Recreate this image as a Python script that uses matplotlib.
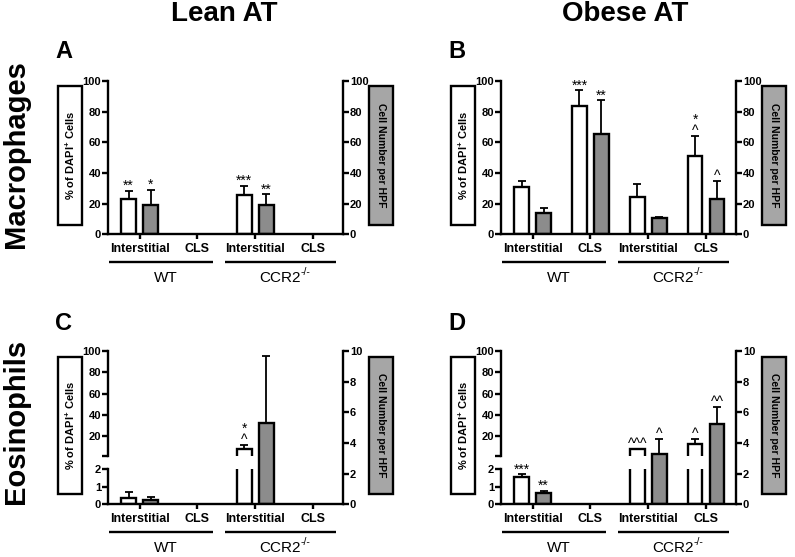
import numpy as np
import matplotlib.pyplot as plt
from matplotlib.patches import Rectangle

plt.rcParams['font.family'] = ['Liberation Sans', 'DejaVu Sans']
plt.rcParams['mathtext.fontset'] = 'custom'
plt.rcParams['mathtext.rm'] = 'Liberation Sans'
plt.rcParams['mathtext.bf'] = 'Liberation Sans:bold'

W, H = 795, 557

# --- data ---
categories = ['Interstitial', 'CLS', 'Interstitial', 'CLS']
groups = ['WT', 'CCR2']
group_sup = ['', '-/-']

# A: lean AT, macrophages
a_white = [23.0, 0, 25.6, 0]
a_white_sem = [5.4, 0, 5.9, 0]
a_gray = [19.1, 0, 19.1, 0]
a_gray_sem = [9.8, 0, 6.9, 0]
a_white_marks = ['**', '', '***', '']
a_gray_marks = ['*', '', '**', '']

# B: obese AT, macrophages
b_white = [30.6, 83.7, 24.5, 51.0]
b_white_sem = [4.3, 10.2, 8.3, 13.0]
b_gray = [13.7, 65.3, 10.4, 22.8]
b_gray_sem = [3.7, 22.1, 1.1, 12.1]
b_white_marks = ['', '***', '', '*\n^']
b_gray_marks = ['', '**', '', '^']

# C: lean AT, eosinophils
c_white = [0.34, 0, 8.2, 0]
c_white_sem = [0.34, 0, 3.8, 0]
c_gray = [0.28, 0, 5.28, 0]
c_gray_sem = [0.18, 0, 4.39, 0]
c_white_marks = ['', '', '*\n^', '']
c_gray_marks = ['', '', '', '']

# D: obese AT, eosinophils
d_white = [1.53, 0, 8.2, 13.2]
d_white_sem = [0.17, 0, 0.0, 4.8]
d_gray = [0.76, 0, 3.25, 5.22]
d_gray_sem = [0.11, 0, 1.0, 1.15]
d_white_marks = ['***', '', '^^^', '^']
d_gray_marks = ['**', '', '^', '^^']

GRAY = '#8c8c8c'
BOXGRAY = '#a6a6a6'
LW = 1.7
XLIM = (-0.55, 3.52)
OFF = 0.19
BW = 0.25
TICK_LEN = 4.3

fig = plt.figure(figsize=(W / 100, H / 100), dpi=100)


def rect(x0, y0, x1, y1):
    # pixel box (top-left origin) -> figure fraction
    return [x0 / W, 1 - y1 / H, (x1 - x0) / W, (y1 - y0) / H]


def style_left(ax, bottom_spine):
    ax.patch.set_visible(False)
    ax.set_zorder(3)
    ax.spines['top'].set_visible(False)
    ax.spines['right'].set_visible(False)
    ax.spines['left'].set_linewidth(LW)
    ax.spines['left'].set_color('black')
    ax.spines['bottom'].set_linewidth(LW)
    ax.spines['bottom'].set_visible(bottom_spine)
    ax.set_xlim(*XLIM)
    ax.tick_params(axis='y', length=TICK_LEN, width=LW, pad=0.5, labelsize=8)
    for t in ax.get_yticklabels():
        t.set_fontweight('bold')
    if bottom_spine:
        ax.set_xticks(range(len(categories)))
        ax.set_xticklabels(categories, fontsize=9, fontweight='bold')
        ax.tick_params(axis='x', length=3.5, width=LW, pad=2.5)
    else:
        ax.set_xticks([])


def annotate(ax, x, y, text):
    if text:
        ax.annotate(text, (x, y), xytext=(0, -1.5), textcoords='offset points',
                    ha='center', va='bottom', fontsize=10, linespacing=0.8,
                    annotation_clip=False)


def draw_bars(ax, xs, vals, sems, color, vmin=0):
    for x, v, e in zip(xs, vals, sems):
        if v <= vmin:
            continue
        ax.bar(x, v, BW, color=color, edgecolor='black', linewidth=LW, zorder=2)
        if e > 0:
            ax.errorbar(x, v, yerr=[[0], [e]], fmt='none', ecolor='black',
                        elinewidth=1.3, capsize=3, capthick=1.3, zorder=1)


def panel(x0, top_px, bot_px, white, white_sem, gray, gray_sem,
          wmarks, gmarks, broken):
    x1 = x0 + 235.6
    xs = np.arange(len(categories))
    right = fig.add_axes(rect(x0, top_px, x1, bot_px))
    if broken:
        # left axis broken into 2-100 (top) and 0-2 (bottom)
        top = fig.add_axes(rect(x0, top_px, x1, bot_px - 48.6))
        bot = fig.add_axes(rect(x0, bot_px - 35.3, x1, bot_px))
        top.set_ylim(2, 100)
        top.set_yticks([2, 20, 40, 60, 80, 100])
        top.set_yticklabels(['', '20', '40', '60', '80', '100'])
        bot.set_ylim(0, 2)
        bot.set_yticks([0, 1, 2])
        style_left(top, False)
        style_left(bot, True)
        draw_bars(top, xs - OFF, white, white_sem, 'white', vmin=2)
        draw_bars(bot, xs - OFF, white, white_sem, 'white')
        right.set_ylim(0, 10)
        right.set_yticks([0, 2, 4, 6, 8, 10])
    else:
        top = fig.add_axes(rect(x0, top_px, x1, bot_px))
        top.set_ylim(0, 100)
        top.set_yticks([0, 20, 40, 60, 80, 100])
        style_left(top, True)
        draw_bars(top, xs - OFF, white, white_sem, 'white')
        bot = top
        right.set_ylim(0, 100)
        right.set_yticks([0, 20, 40, 60, 80, 100])

    for x, v, e, m in zip(xs - OFF, white, white_sem, wmarks):
        yt = v + e
        ax = top if (not broken or yt > 2) else bot
        annotate(ax, x, yt, m)

    right.patch.set_visible(False)
    right.set_zorder(2)
    for s in ['top', 'left', 'bottom']:
        right.spines[s].set_visible(False)
    right.spines['right'].set_linewidth(LW)
    right.yaxis.tick_right()
    right.set_xlim(*XLIM)
    right.set_xticks([])
    right.tick_params(axis='y', length=TICK_LEN, width=LW, pad=0.5, labelsize=8)
    for t in right.get_yticklabels():
        t.set_fontweight('bold')
    draw_bars(right, xs + OFF, gray, gray_sem, GRAY)
    for x, v, e, m in zip(xs + OFF, gray, gray_sem, gmarks):
        annotate(right, x, v + e, m)

    # group underlines and labels
    h = bot_px - top_px
    tr = right.get_xaxis_transform()
    for (a, b), lab, sup, cx in zip([(-0.52, 1.27), (1.47, 3.40)], groups,
                                    group_sup, [0.46, 2.42]):
        right.plot([a, b], [-28 / h, -28 / h], color='black', lw=LW,
                   transform=tr, clip_on=False, solid_capstyle='butt')
        t = right.text(cx, -44 / h, lab, transform=tr, ha='center', va='center',
                       fontsize=11)
        if sup:
            right.annotate(sup, xy=(1, 0.92), xycoords=t, ha='left', va='center',
                           fontsize=7.5)


def boxes(x0, y0, y1, gx1):
    fig.patches.append(Rectangle((x0 / W, 1 - y1 / H), 23.5 / W, (y1 - y0) / H,
                                 transform=fig.transFigure, facecolor='white',
                                 edgecolor='black', linewidth=LW))
    fig.text((x0 + 11.7) / W, 1 - (y0 + y1) / 2 / H, '% of DAPI$^{\\mathbf{+}}$ Cells',
             rotation=90, ha='center', va='center', fontsize=8, fontweight='bold')
    gx0 = x0 + 310.7
    fig.patches.append(Rectangle((gx0 / W, 1 - y1 / H), (gx1 - gx0) / W, (y1 - y0) / H,
                                 transform=fig.transFigure, facecolor=BOXGRAY,
                                 edgecolor='black', linewidth=LW))
    fig.text((gx0 + gx1) / 2 / W, 1 - (y0 + y1) / 2 / H, 'Cell Number per HPF',
             rotation=270, ha='center', va='center', fontsize=7.5, fontweight='bold')


panel(107.7, 81, 234.3, a_white, a_white_sem, a_gray, a_gray_sem,
      a_white_marks, a_gray_marks, False)
panel(500.7, 81, 234.3, b_white, b_white_sem, b_gray, b_gray_sem,
      b_white_marks, b_gray_marks, False)
panel(107.7, 351, 504.3, c_white, c_white_sem, c_gray, c_gray_sem,
      c_white_marks, c_gray_marks, True)
panel(500.7, 351, 504.3, d_white, d_white_sem, d_gray, d_gray_sem,
      d_white_marks, d_gray_marks, True)

boxes(58.3, 86, 225, 392.5)
boxes(451.3, 86, 225, 785.5)
boxes(58.3, 357, 494, 392.5)
boxes(451.3, 357, 494, 785.5)

# titles, panel letters, row labels
fig.text(224 / W, 1 - 14 / H, 'Lean AT', ha='center', va='center',
         fontsize=20, fontweight='bold')
fig.text(625 / W, 1 - 14 / H, 'Obese AT', ha='center', va='center',
         fontsize=20, fontweight='bold')
for lab, x, y in [('A', 55, 52), ('B', 448, 52), ('C', 55, 323), ('D', 448, 323)]:
    fig.text(x / W, 1 - y / H, lab, ha='left', va='center', fontsize=17,
             fontweight='bold')
fig.text(16 / W, 1 - 154 / H, 'Macrophages', rotation=90, ha='center',
         va='center', fontsize=21, fontweight='bold')
fig.text(16 / W, 1 - 421 / H, 'Eosinophils', rotation=90, ha='center',
         va='center', fontsize=21, fontweight='bold')

fig.savefig('out.png', dpi=100)
